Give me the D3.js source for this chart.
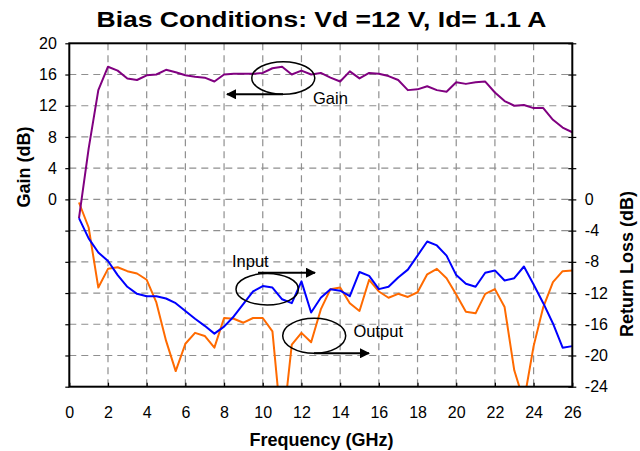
<!DOCTYPE html>
<html>
<head>
<meta charset="utf-8">
<script src="https://cdn.jsdelivr.net/npm/d3@7"></script>
<style>
  body { margin: 0; background: #fff; }
  svg text { font-family: "Liberation Sans", Arial, sans-serif; fill: #000; }
</style>
</head>
<body>
<div id="chart"></div>
<script>
// ---------------- data ----------------
var freq = [0.5, 1, 1.5, 2, 2.5, 3, 3.5, 4, 4.5, 5, 5.5, 6, 6.5, 7, 7.5, 8, 8.5, 9, 9.5, 10,
            10.5, 11, 11.5, 12, 12.5, 13, 13.5, 14, 14.5, 15, 15.5, 16, 16.5, 17, 17.5, 18,
            18.5, 19, 19.5, 20, 20.5, 21, 21.5, 22, 22.5, 23, 23.5, 24, 24.5, 25, 25.5, 26];

var gain = [-2.4, 6.5, 14.0, 17.0, 16.5, 15.5, 15.3, 15.9, 16.0, 16.6, 16.3, 15.9, 15.7, 15.6,
            15.1, 16.0, 16.1, 16.1, 16.1, 16.2, 16.8, 17.0, 16.0, 16.5, 16.0, 16.2, 15.6, 15.1,
            16.4, 15.5, 16.2, 16.1, 15.8, 15.3, 14.0, 14.1, 14.5, 14.0, 13.8, 15.0, 14.8, 15.0,
            15.1, 13.7, 12.6, 12.0, 12.1, 11.7, 11.7, 10.2, 9.2, 8.6];

var inputRL = [-2.4, -5.0, -6.8, -7.9, -9.7, -11.2, -12.1, -12.4, -12.4, -12.7, -13.3, -14.3,
               -15.3, -16.2, -17.2, -16.3, -15.0, -13.4, -11.8, -11.1, -11.3, -12.8, -13.3, -10.5,
               -14.5, -12.6, -11.5, -11.7, -12.4, -9.3, -9.8, -11.5, -11.2, -10.0, -9.0, -7.2,
               -5.4, -5.9, -7.2, -9.7, -10.8, -11.2, -9.4, -9.1, -10.4, -10.1, -8.6, -10.9,
               -13.3, -15.9, -19.0, -18.8];

var outputRL = [-0.4, -3.6, -11.3, -8.9, -8.7, -9.2, -9.5, -10.3, -13.2, -18.1, -22.0, -18.5,
                -17.1, -17.5, -19.0, -15.2, -15.3, -15.8, -15.2, -15.2, -16.9, -30.0, -18.6, -17.1,
                -18.3, -14.1, -11.5, -11.3, -13.3, -14.3, -10.3, -11.8, -12.6, -12.1, -12.5, -11.9,
                -9.6, -8.9, -10.1, -12.2, -14.4, -14.6, -12.1, -11.5, -13.8, -21.9, -25.9, -18.8,
                -13.8, -10.6, -9.2, -9.1];

var xTicks = [0, 2, 4, 6, 8, 10, 12, 14, 16, 18, 20, 22, 24, 26];
var gainTicks = [0, 4, 8, 12, 16, 20];
var rlTicks = [0, -4, -8, -12, -16, -20, -24];
var gridY = [-24, -20, -16, -12, -8, -4, 0, 4, 8, 12, 16, 20];

// ---------------- layout ----------------
var W = 640, H = 451;
var plotL = 69.3, plotR = 572.3, plotT = 43.3, plotB = 386.7;
var font = '"Liberation Sans", Arial, sans-serif';

var svg = d3.select("#chart").append("svg")
            .attr("width", W)
            .attr("height", H);

var x = d3.scaleLinear().domain([0, 26]).range([plotL, plotR]);
// both value axes share the same dB-per-pixel; gain 0 and return loss 0 sit on the same line
var yGain = d3.scaleLinear().domain([-24, 20]).range([plotB, plotT]);
var yRL = d3.scaleLinear().domain([-24, 20]).range([plotB, plotT]);

// grid
var grid = svg.append("g").attr("stroke", "#8f8f8f").attr("stroke-width", 1.2)
              .attr("stroke-dasharray", "7,5");
grid.selectAll("line.v")
    .data(xTicks.filter(function(d){ return d > 0 && d < 26; }))
    .enter().append("line")
    .attr("x1", function(d){ return x(d); })
    .attr("x2", function(d){ return x(d); })
    .attr("y1", plotT).attr("y2", plotB);
grid.selectAll("line.h")
    .data(gridY.filter(function(d){ return d > -24 && d < 20; }))
    .enter().append("line")
    .attr("x1", plotL).attr("x2", plotR)
    .attr("y1", function(d){ return yGain(d); })
    .attr("y2", function(d){ return yGain(d); });

// clip for the lines
svg.append("clipPath").attr("id", "plotClip")
   .append("rect")
   .attr("x", plotL).attr("y", plotT)
   .attr("width", plotR - plotL).attr("height", plotB - plotT);

var plot = svg.append("g").attr("clip-path", "url(#plotClip)");

function drawLine(values, scale, color) {
  var line = d3.line()
               .x(function(d, i){ return x(freq[i]); })
               .y(function(d){ return scale(d); });
  plot.append("path")
      .datum(values)
      .attr("d", line)
      .attr("fill", "none")
      .attr("stroke", color)
      .attr("stroke-width", 2)
      .attr("stroke-linejoin", "round");
}

drawLine(outputRL, yRL, "#ff6a00");
drawLine(inputRL, yRL, "#0000ff");
drawLine(gain, yGain, "#800080");

// axes
var axisLeft = d3.axisLeft(yGain)
                 .tickValues(gridY)
                 .tickSizeInner(4).tickSizeOuter(0).tickPadding(8.5)
                 .tickFormat(function(d){ return gainTicks.indexOf(d) >= 0 ? d : ""; });
var gL = svg.append("g").attr("transform", "translate(" + plotL + ",0)").call(axisLeft);

var axisRight = d3.axisRight(yRL)
                  .tickValues(gridY)
                  .tickSizeInner(4).tickSizeOuter(0).tickPadding(8.5)
                  .tickFormat(function(d){ return rlTicks.indexOf(d) >= 0 ? d : ""; });
var gR = svg.append("g").attr("transform", "translate(" + plotR + ",0)").call(axisRight);
gR.selectAll(".tick line").attr("x1", -4);

var axisBottom = d3.axisBottom(x)
                   .tickValues(xTicks)
                   .tickSizeInner(-4).tickSizeOuter(0).tickPadding(19.5);
var gB = svg.append("g").attr("transform", "translate(0," + plotB + ")").call(axisBottom);

[gL, gR, gB].forEach(function(g){
  g.select(".domain").remove();
  g.selectAll(".tick line").attr("stroke", "#000").attr("stroke-width", 1.2);
  g.selectAll(".tick text").style("font-family", font).style("font-size", "16px").attr("fill", "#000");
});

// plot frame
svg.append("rect")
   .attr("x", plotL).attr("y", plotT)
   .attr("width", plotR - plotL).attr("height", plotB - plotT)
   .attr("fill", "none").attr("stroke", "#000").attr("stroke-width", 2);

// titles
svg.append("text")
   .attr("x", 321.5).attr("y", 26.5)
   .attr("text-anchor", "middle")
   .attr("textLength", 450).attr("lengthAdjust", "spacingAndGlyphs")
   .style("font-size", "22px").style("font-weight", "bold")
   .text("Bias Conditions: Vd =12 V, Id= 1.1 A");

svg.append("text")
   .attr("x", 321.5).attr("y", 446)
   .attr("text-anchor", "middle")
   .style("font-size", "18px").style("font-weight", "bold")
   .text("Frequency (GHz)");

svg.append("text")
   .attr("transform", "translate(30,167) rotate(-90)")
   .attr("text-anchor", "middle")
   .style("font-size", "18px").style("font-weight", "bold")
   .text("Gain (dB)");

svg.append("text")
   .attr("transform", "translate(633,264) rotate(-90)")
   .attr("text-anchor", "middle")
   .style("font-size", "18px").style("font-weight", "bold")
   .text("Return Loss (dB)");

// annotations: ellipse, arrow, label
var defs = svg.append("defs");
defs.append("marker").attr("id", "arrowHead")
    .attr("viewBox", "0 0 10 10").attr("refX", 9).attr("refY", 5)
    .attr("markerWidth", 5).attr("markerHeight", 5)
    .attr("markerUnits", "strokeWidth")
    .attr("orient", "auto")
    .append("path").attr("d", "M0,0 L10,5 L0,10 Z").attr("fill", "#000");

var notes = [
  {label: "Gain",   cx: 283.3, cy: 78,    rx: 31.5, ry: 16.3, ax1: 283, ax2: 227, ay: 94.3, tx: 313, ty: 104},
  {label: "Input",  cx: 267.2, cy: 289.2, rx: 31.2, ry: 15.8, ax1: 258, ax2: 315, ay: 272.7, tx: 232, ty: 267},
  {label: "Output", cx: 314.2, cy: 335.8, rx: 31.5, ry: 17.5, ax1: 314, ax2: 369, ay: 353.3, tx: 353.5, ty: 337}
];

var ann = svg.append("g");
notes.forEach(function(n){
  ann.append("ellipse")
     .attr("cx", n.cx).attr("cy", n.cy).attr("rx", n.rx).attr("ry", n.ry)
     .attr("fill", "none").attr("stroke", "#000").attr("stroke-width", 1.5);
  ann.append("line")
     .attr("x1", n.ax1).attr("x2", n.ax2).attr("y1", n.ay).attr("y2", n.ay)
     .attr("stroke", "#000").attr("stroke-width", 2)
     .attr("marker-end", "url(#arrowHead)");
  ann.append("text")
     .attr("x", n.tx).attr("y", n.ty)
     .style("font-size", "16.5px")
     .text(n.label);
});
</script>
</body>
</html>
